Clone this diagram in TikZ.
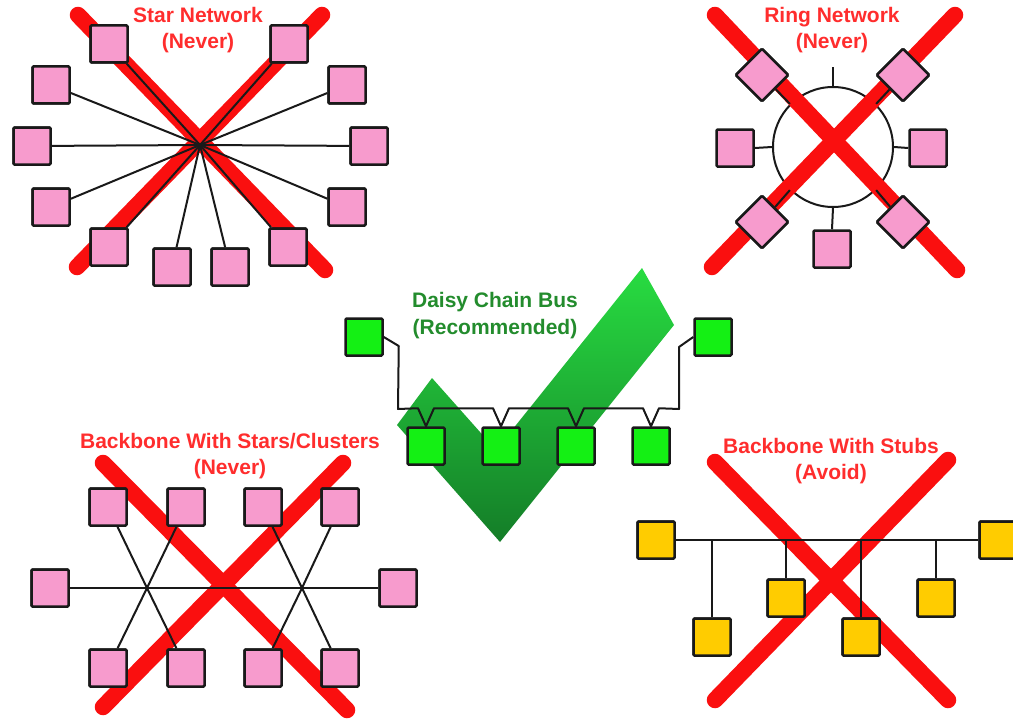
\documentclass[tikz,border=0pt]{standalone}
\usepackage{fontspec}
\setmainfont{Liberation Sans}
\usetikzlibrary{calc}
\definecolor{pinkfill}{RGB}{247,155,205}
\definecolor{yelfill}{RGB}{255,204,0}
\definecolor{grnfill}{RGB}{20,240,20}
\definecolor{xred}{RGB}{250,15,15}
\definecolor{tred}{RGB}{255,45,45}
\definecolor{tgreen}{RGB}{35,140,45}
\definecolor{chkA}{RGB}{40,220,65}
\definecolor{chkB}{RGB}{20,125,40}
\definecolor{edge}{RGB}{25,25,25}
\begin{document}
\begin{tikzpicture}[x=1pt,y=-1pt,
  boxbase/.style={draw=edge,line width=2.5pt,minimum size=37pt,inner sep=0pt,rounded corners=1.2pt},
  pbox/.style={boxbase,fill=pinkfill},
  ybox/.style={boxbase,fill=yelfill},
  gbox/.style={boxbase,fill=grnfill},
  pdia/.style={boxbase,fill=pinkfill,rotate=45},
  redx/.style={xred,line width=16.5pt,line cap=round},
  wire/.style={edge,line width=2pt},
  ttl/.style={font=\bfseries\fontsize{21}{26}\selectfont,text=tred,align=center,inner sep=0pt},
  gttl/.style={font=\bfseries\fontsize{21}{27}\selectfont,text=tgreen,align=center,inner sep=0pt}]
\useasboundingbox (0,0) rectangle (1013,725);
\fill[white] (0,0) rectangle (1013,725);

% ================= Star network =================
\draw[redx] (78,15) -- (325,270);
\draw[redx] (322,15) -- (77,267);
\coordinate (sc) at (200,145);
\node[pbox] (s1) at (109,44) {};
\node[pbox] (s2) at (289,44) {};
\node[pbox] (s3) at (51,85) {};
\node[pbox] (s4) at (347,85) {};
\node[pbox] (s5) at (32,146) {};
\node[pbox] (s6) at (369,146) {};
\node[pbox] (s7) at (51,207) {};
\node[pbox] (s8) at (347,207) {};
\node[pbox] (s9) at (109,247) {};
\node[pbox] (s10) at (288,247) {};
\node[pbox] (s11) at (172,267) {};
\node[pbox] (s12) at (230,267) {};
\foreach \i in {1,...,12} { \draw[wire] (sc) -- (s\i); }
\foreach \i in {1,...,12} { \node[pbox] at (s\i) {}; }
\node[ttl] (tstar) at (198,30) {Star Network\\(Never)};

% ================= Ring network =================
\node[draw=edge,line width=2pt,circle,minimum size=120pt,inner sep=0pt] (ring) at (833,147) {};
\draw[redx] (715,15) -- (957,270);
\draw[redx] (955,15) -- (712,267);
\coordinate (rtop) at (833,67);
\node[pbox] (r1) at (735,148) {};
\node[pbox] (r2) at (928,148) {};
\node[pbox] (r3) at (832,249) {};
\node[pdia] (d1) at (762,75) {};
\node[pdia] (d2) at (903,75) {};
\node[pdia] (d3) at (762,222) {};
\node[pdia] (d4) at (903,222) {};
\draw[wire] (ring.north) -- (rtop);
\draw[wire] (ring.west) -- (r1.east);
\draw[wire] (ring.east) -- (r2.west);
\draw[wire] (ring.south) -- (r3.north);
\draw[wire] (ring.north west) -- (d1);
\draw[wire] (ring.north east) -- (d2);
\draw[wire] (ring.south west) -- (d3);
\draw[wire] (ring.south east) -- (d4);
\foreach \d in {d1,d2,d3,d4} { \node[pdia] at (\d) {}; }
\node[ttl] (tring) at (832,30) {Ring Network\\(Never)};

% ================= Daisy chain =================
\shade[top color=chkA,bottom color=chkB] (397,425) -- (432,378) -- (496,450) -- (642,268) -- (674,325) -- (500,542) -- cycle;
\node[gbox] (g1) at (364,337) {};
\node[gbox] (g2) at (713,337) {};
\node[gbox] (b1) at (426,446) {};
\node[gbox] (b2) at (501,446) {};
\node[gbox] (b3) at (576,446) {};
\node[gbox] (b4) at (651,446) {};
\draw[wire,line join=round] (g1.east) -- ++(15,9) -- (398,409)
  -- ($(b1.north)+(-8,-18)$) -- (b1.north) -- ($(b1.north)+(8,-18)$)
  -- ($(b2.north)+(-8,-18)$) -- (b2.north) -- ($(b2.north)+(8,-18)$)
  -- ($(b3.north)+(-8,-18)$) -- (b3.north) -- ($(b3.north)+(8,-18)$)
  -- ($(b4.north)+(-8,-18)$) -- (b4.north) -- ($(b4.north)+(8,-18)$)
  -- (679,409) -- (679,347) -- (g2.west);
\node[gttl] (tdaisy) at (495,316) {Daisy Chain Bus\\(Recommended)};

% ================= Backbone with stars =================
\draw[redx] (103,463) -- (347,710);
\draw[redx] (343,463) -- (103,707);
\coordinate (h1) at (147,588);
\coordinate (h2) at (302,588);
\node[pbox] (k1) at (108,507) {};
\node[pbox] (k2) at (186,507) {};
\node[pbox] (k3) at (263,507) {};
\node[pbox] (k4) at (340,507) {};
\node[pbox] (k5) at (108,668) {};
\node[pbox] (k6) at (186,668) {};
\node[pbox] (k7) at (263,668) {};
\node[pbox] (k8) at (340,668) {};
\node[pbox] (kl) at (50,588) {};
\node[pbox] (kr) at (398,588) {};
\draw[wire] (kl) -- (kr);
\foreach \k in {k1,k2,k5,k6} { \draw[wire] (h1) -- (\k); }
\foreach \k in {k3,k4,k7,k8} { \draw[wire] (h2) -- (\k); }
\foreach \k in {k1,k2,k3,k4,k5,k6,k7,k8,kl,kr} { \node[pbox] at (\k) {}; }
\node[ttl] (tbbs) at (230,456) {Backbone With Stars/Clusters\\(Never)};

% ================= Backbone with stubs =================
\draw[redx] (715,462) -- (948,700);
\draw[redx] (948,460) -- (715,700);
\node[ybox] (ya) at (656,540) {};
\node[ybox] (yb) at (998,540) {};
\node[ybox] (y1) at (712,637) {};
\node[ybox] (y2) at (786,598) {};
\node[ybox] (y3) at (861,637) {};
\node[ybox] (y4) at (936,598) {};
\draw[wire] (ya) -- (yb);
\foreach \y in {y1,y2,y3,y4} { \draw[wire] (\y.north) -- (\y.north |- ya); }
\foreach \y in {ya,yb,y1,y2,y3,y4} { \node[ybox] at (\y) {}; }
\node[ttl] (tstub) at (831,461) {Backbone With Stubs\\(Avoid)};
\end{tikzpicture}
\end{document}
